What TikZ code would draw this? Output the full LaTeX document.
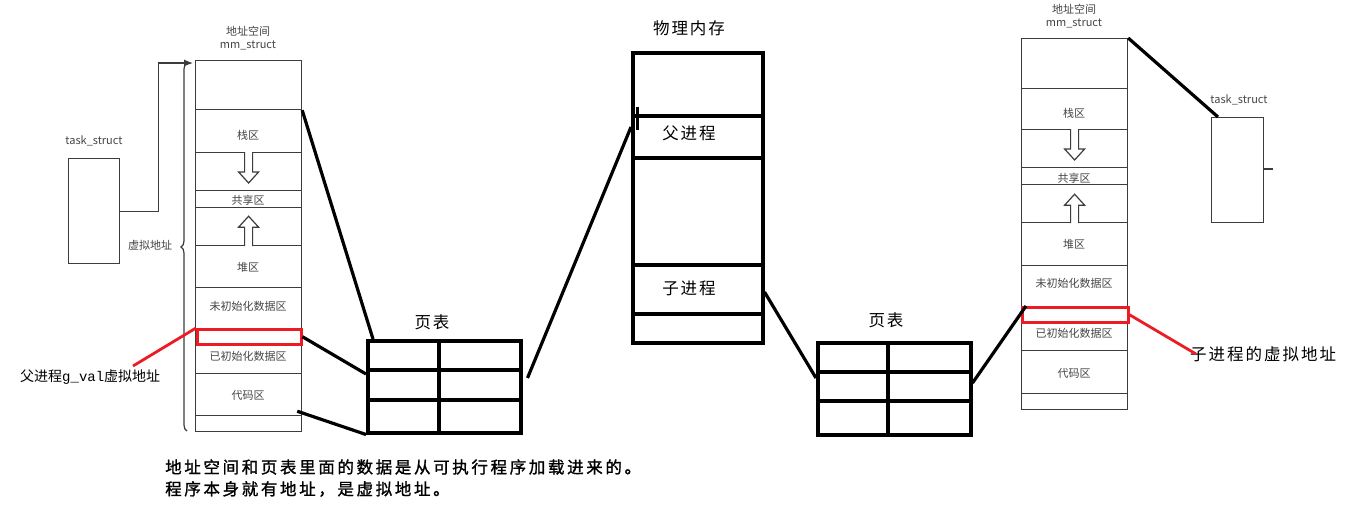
\documentclass[tikz,border=0pt]{standalone}
\usepackage{fontspec}
\setmainfont{Noto Sans CJK SC}
\setmonofont{Liberation Mono}
\newfontfamily\widecjk[LetterSpace=12]{Noto Sans CJK SC}
\newfontfamily\widebold[LetterSpace=16,FakeBold=1.2]{Noto Sans CJK SC}
\usetikzlibrary{arrows.meta,decorations.pathreplacing,calc}
\definecolor{linec}{HTML}{3C3C3C}
\definecolor{txtc}{HTML}{454545}
\definecolor{redc}{HTML}{ED1C24}
\begin{document}
\begin{tikzpicture}[x=1pt,y=-1pt,
  cell/.style={draw=linec, line width=1.2pt, minimum width=106pt, inner sep=0pt, anchor=north west},
  pcell/.style={draw=black, line width=3.5pt, minimum width=130pt, inner sep=0pt, anchor=north west},
  tcell/.style={draw=black, line width=3.5pt, inner sep=0pt, anchor=north west},
  redbox/.style={draw=redc, line width=2.5pt, inner sep=0pt, anchor=north west, minimum height=15pt},
  small/.style={text=txtc, font=\fontsize{11}{13}\selectfont, inner sep=0pt},
  big/.style={text=black, font=\widecjk\fontsize{16.5}{19}\selectfont, inner sep=0pt},
  thickline/.style={draw=black, line width=3.2pt},
  redline/.style={draw=redc, line width=2.8pt},
  thinline/.style={draw=linec, line width=1.2pt},
  hollow/.style={draw=linec, line width=1.2pt, fill=white}]
\useasboundingbox (0,0) rectangle (1360,504);
\fill[white] (0,0) rectangle (1360,504);

% ---------- left address space ----------
\node[small] (lh1) at (248,31) {地址空间};
\node[small] (lh2) at (248,45) {mm\_struct};
\node[cell, minimum height=49pt] (L0) at (195,60) {};
\node[cell, minimum height=43pt] (L1) at (195,109) {};
\node[cell, minimum height=38pt] (L2) at (195,152) {};
\node[cell, minimum height=17pt] (L3) at (195,190) {};
\node[cell, minimum height=38pt] (L4) at (195,207) {};
\node[cell, minimum height=42pt] (L5) at (195,245) {};
\node[cell, minimum height=41pt] (L6) at (195,287) {};
\node[cell, minimum height=45pt] (L7) at (195,328) {};
\node[cell, minimum height=42pt] (L8) at (195,373) {};
\node[cell, minimum height=16pt] (L9) at (195,415) {};
\node[small] (ll1) at (248,135) {栈区};
\node[small] (ll3) at (248,200) {共享区};
\node[small] (ll5) at (248,267) {堆区};
\node[small] (ll6) at (248,306) {未初始化数据区};
\node[small] (ll7) at (248,356) {已初始化数据区};
\node[small] (ll8) at (248,395) {代码区};
\draw[hollow, shift={(L2.north)}] (-4,0) -- (-4,20) -- (-10,20) -- (0,31) -- (10,20) -- (4,20) -- (4,0);
\draw[hollow, shift={(L4.south)}] (-4,0) -- (-4,-19) -- (-10,-19) -- (0,-30) -- (10,-19) -- (4,-19) -- (4,0);
\node[redbox, minimum width=104pt] (Lred) at (196,328) {};

% left task_struct
\node[small] (tl) at (94,141) {task\_struct};
\node[cell, minimum width=51pt, minimum height=105pt] (TL) at (68,158) {};
\draw[thinline, -{Latex[length=9pt,width=7pt]}] (TL.east) -- ++(38,0) |- ([xshift=-2pt,yshift=-3pt]L0.north west);
\draw[thinline, decorate, decoration={brace, amplitude=6pt}] (187,431) -- (187,63);
\node[small] (vl) at (150,245) {虚拟地址};

% left red label
\node[anchor=west, inner sep=0pt, font=\fontsize{14}{16}\selectfont] (Lg) at (20,377) {父进程{\ttfamily g\_val}虚拟地址};
\coordinate (lgp) at (133,366);
\draw[redline] (lgp) -- (Lred.north west);

% ---------- left page table ----------
\node[big] (pt1) at (432,322) {页表};
\node[tcell, minimum width=71pt, minimum height=29pt] (A11) at (366,339) {};
\node[tcell, minimum width=82pt, minimum height=29pt] (A12) at (437,339) {};
\node[tcell, minimum width=71pt, minimum height=30pt] (A21) at (366,368) {};
\node[tcell, minimum width=82pt, minimum height=30pt] (A22) at (437,368) {};
\node[tcell, minimum width=71pt, minimum height=33pt] (A31) at (366,398) {};
\node[tcell, minimum width=82pt, minimum height=33pt] (A32) at (437,398) {};

% ---------- physical memory ----------
\node[big] (pm) at (689,28) {物理内存};
\node[pcell, minimum height=63pt] (P0) at (631,51) {};
\node[pcell, minimum height=42pt] (P1) at (631,114) {};
\node[pcell, minimum height=107pt] (P2) at (631,156) {};
\node[pcell, minimum height=49pt] (P3) at (631,263) {};
\node[pcell, minimum height=29pt] (P4) at (631,312) {};
\node[big] (pl1) at (689,133) {父进程};
\node[big] (pl3) at (689,288) {子进程};
\draw[line width=3pt] ([xshift=6pt,yshift=7pt]P1.north west) -- ++(0,23);

% ---------- right page table ----------
\node[big] (pt2) at (886,320) {页表};
\node[tcell, minimum width=70pt, minimum height=29pt] (B11) at (816,341) {};
\node[tcell, minimum width=83pt, minimum height=29pt] (B12) at (886,341) {};
\node[tcell, minimum width=70pt, minimum height=29pt] (B21) at (816,370) {};
\node[tcell, minimum width=83pt, minimum height=29pt] (B22) at (886,370) {};
\node[tcell, minimum width=70pt, minimum height=34pt] (B31) at (816,399) {};
\node[tcell, minimum width=83pt, minimum height=34pt] (B32) at (886,399) {};

% ---------- right address space ----------
\node[small] (rh1) at (1074,9) {地址空间};
\node[small] (rh2) at (1074,23) {mm\_struct};
\node[cell, minimum height=50pt] (R0) at (1021,38) {};
\node[cell, minimum height=41pt] (R1) at (1021,88) {};
\node[cell, minimum height=38pt] (R2) at (1021,129) {};
\node[cell, minimum height=17pt] (R3) at (1021,167) {};
\node[cell, minimum height=38pt] (R4) at (1021,184) {};
\node[cell, minimum height=43pt] (R5) at (1021,222) {};
\node[cell, minimum height=41pt] (R6) at (1021,265) {};
\node[cell, minimum height=44pt] (R7) at (1021,306) {};
\node[cell, minimum height=43pt] (R8) at (1021,350) {};
\node[cell, minimum height=16pt] (R9) at (1021,393) {};
\node[small] (rl1) at (1074,113) {栈区};
\node[small] (rl3) at (1074,178) {共享区};
\node[small] (rl5) at (1074,244) {堆区};
\node[small] (rl6) at (1074,283) {未初始化数据区};
\node[small] (rl7) at (1074,333) {已初始化数据区};
\node[small] (rl8) at (1074,373) {代码区};
\draw[hollow, shift={(R2.north)}] (-4,0) -- (-4,20) -- (-10,20) -- (0,31) -- (10,20) -- (4,20) -- (4,0);
\draw[hollow, shift={(R4.south)}] (-4,0) -- (-4,-18) -- (-10,-18) -- (0,-29) -- (10,-18) -- (4,-18) -- (4,0);
\node[redbox, minimum width=106pt] (Rred) at (1021,306) {};

% right task_struct
\node[small] (tr) at (1239,100) {task\_struct};
\node[cell, minimum width=52pt, minimum height=105pt] (RT) at (1211,117) {};
\draw[thinline] ([yshift=-52pt]RT.north east) -- ++(9,0);

% right red label
\node[anchor=west, inner sep=0pt, font=\widecjk\fontsize{16.5}{19}\selectfont] (Rg) at (1190,354) {子进程的虚拟地址};
\draw[redline] (Rred.east) -- ([xshift=6pt]Rg.west);

% ---------- black connectors ----------
\draw[thickline] (L0.south east) -- ([xshift=7pt]A11.north west);
\draw[thickline] (Lred.east) -- ([yshift=-6pt]A21.north west);
\draw[thickline] ([xshift=-5pt,yshift=5pt]L8.south east) -- (A31.south west);
\draw[thickline] ([xshift=5pt,yshift=-10pt]A22.north east) -- ([yshift=-13pt]P1.north west);
\draw[thickline] ([yshift=-29pt]P3.north east) -- ([yshift=-8pt]B21.north west);
\draw[thickline] ([yshift=-13pt]B22.north east) -- ([xshift=5pt]R7.north west);
\draw[thickline] (R0.north east) -- ([xshift=7pt]RT.north west);

% ---------- bottom text ----------
\node[anchor=west, inner sep=0pt, font=\widebold\fontsize{16.5}{19}\selectfont] (bt1) at (165,467) {地址空间和页表里面的数据是从可执行程序加载进来的。};
\node[anchor=west, inner sep=0pt, font=\widebold\fontsize{16.5}{19}\selectfont] (bt2) at (165,489) {程序本身就有地址，是虚拟地址。};
\end{tikzpicture}
\end{document}
